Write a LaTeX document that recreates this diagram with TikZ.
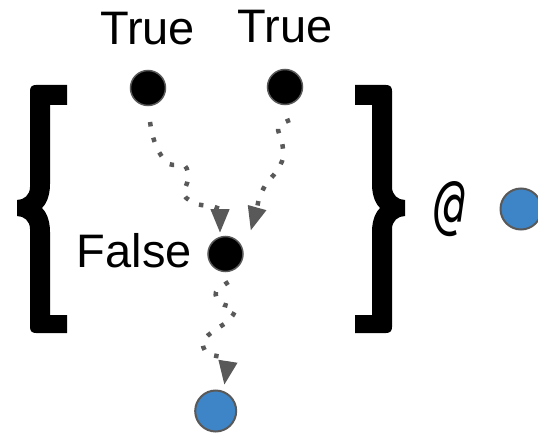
\documentclass[tikz,border=0pt]{standalone}
\usepackage{fontspec}
\setmainfont{Liberation Sans}
\newfontfamily\atfont{DejaVu Sans Mono}
\usetikzlibrary{arrows.meta}
\definecolor{edgegray}{HTML}{595959}
\definecolor{dotblue}{HTML}{3D85C6}
\tikzset{
  bigtext/.style={font=\fontsize{47}{56}\selectfont, inner sep=0pt, anchor=base},
  truth/.style={circle, fill=black, draw=edgegray, line width=1.5pt, minimum size=35pt, inner sep=0pt},
  outcome/.style={circle, fill=dotblue, draw=edgegray, line width=2pt, minimum size=41pt, inner sep=0pt},
  flow/.style={draw=edgegray, line width=4.5pt, dash pattern=on 4.5pt off 11.5pt,
    -{Triangle[width=18pt,length=24pt]}},
  % a tall curly brace, stem outer edge at x=0
  curly/.pic={
    \fill (37,85) -- (37,105) -- (20,105) -- (20,184)
      .. controls (20,198) and (15,205) .. (12,208)
      .. controls (15,211) and (20,218) .. (20,232)
      -- (20,315) -- (37,315) -- (37,333) -- (6,333)
      .. controls (2,333) and (0,331) .. (0,327)
      -- (0,229) .. controls (0,221) and (-6,216) .. (-13,216)
      -- (-13,200) .. controls (-6,200) and (0,195) .. (0,187)
      -- (0,91) .. controls (0,87) and (2,85) .. (6,85) -- cycle;
  }
}
\begin{document}
\begin{tikzpicture}[x=1pt,y=-1pt]
\useasboundingbox (0,0) rectangle (538,433);

% braces
\pic at (30,0) {curly};
\pic[xscale=-1] at (392,0) {curly};

% dots
\node[truth] (tl) at (148,88) {};
\node[truth] (tr) at (285,87) {};
\node[truth] (mid) at (225.5,254) {};
\node[outcome] (sink) at (215.7,411) {};
\node[outcome] (ctx) at (521,209) {};

% labels
\node[bigtext] (tlabel) at (147.5,45) {True};
\node[bigtext] (trlabel) at (285,43) {True};
\node[bigtext, anchor=base east] (flabel) at (192,267) {False};
\node[inner sep=0pt] (atsign) at (450,209)
  {\atfont\itshape\fontsize{66}{70}\selectfont\scalebox{0.75}[1]{@}};

% dotted flows
\draw[flow] plot[smooth, tension=0.55] coordinates {([shift={(2,34)}]tl.center) (153,137) (159,152) (169,164) (185,166) (188,179) (184,195) (197,204) (212,206)}
  -- (220,209) -- ([shift={(-5.5,-21)}]mid.center);
\draw[flow] plot[smooth, tension=0.55] coordinates {([shift={(5,33)}]tr.center) (278,127) (282,142) (283,158) (276,172) (266,184) (259,198)}
  -- (257,208) -- ([shift={(25.2,-23.3)}]mid.center);
\draw[flow] plot[smooth, tension=0.55] coordinates {([shift={(3,28)}]mid.center) (216,292) (220,303) (235,309) (228,321) (215,330) (203,341) (207,353) (223,357)}
  -- (228,361) -- ([shift={(8.6,-26)}]sink.center);
\end{tikzpicture}
\end{document}
